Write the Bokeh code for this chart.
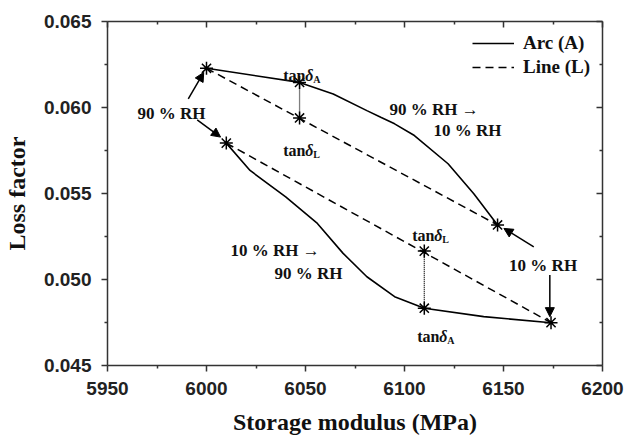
from bokeh.plotting import figure
from bokeh.models import (LinearAxis, Range1d, Arrow, NormalHead, Legend, LegendItem,
                          FixedTicker, NumeralTickFormatter)
from bokeh.core.properties import value
from bokeh.embed import file_html
from bokeh.resources import INLINE

# ---------------- data ----------------
# Arc A: 90 % RH -> 10 % RH (upper branch)
arc_dry_x = [6000, 6047, 6064, 6081, 6088, 6095, 6105, 6122, 6135, 6147]
arc_dry_y = [0.06228, 0.06146, 0.06079, 0.05982, 0.05943, 0.05905, 0.05837, 0.05673, 0.05499, 0.05317]
# Arc A: 10 % RH -> 90 % RH (lower branch)
arc_wet_x = [6010, 6022, 6040, 6056, 6069, 6081, 6095, 6110, 6140, 6174]
arc_wet_y = [0.05793, 0.05634, 0.05480, 0.05326, 0.05152, 0.05016, 0.04900, 0.04833, 0.04784, 0.04749]
# Line L: straight chords between end points
line_dry_x = [6000, 6147]
line_dry_y = [0.06228, 0.05317]
line_wet_x = [6010, 6174]
line_wet_y = [0.05793, 0.04749]
# tan(delta) comparison points
tan_x = [6047, 6110]
tan_arc_y = [0.06146, 0.04833]
tan_line_y = [0.05939, 0.05165]
# star markers
star_x = [6000, 6147, 6010, 6174] + tan_x + tan_x
star_y = [0.06228, 0.05317, 0.05793, 0.04749] + tan_arc_y + tan_line_y
# ticks
x_ticks = [5950, 6000, 6050, 6100, 6150, 6200]
y_ticks = [0.045, 0.050, 0.055, 0.060, 0.065]

# ---------------- annotations ----------------
rh_text = ["90 % RH", "10 % RH", "90 % RH \u2192", "10 % RH", "10 % RH \u2192", "90 % RH"]
rh_x = [5982.3, 6170.0, 6092.4, 6114.6, 6012.1, 6034.3]
rh_y = [0.05967, 0.05084, 0.05991, 0.05866, 0.05171, 0.05035]
rh_align = ["center", "center", "left", "left", "left", "left"]

arrow_x0 = [5990.8, 5995.3, 6165.3, 6173.4]
arrow_y0 = [0.06050, 0.05928, 0.05190, 0.05026]
arrow_x1 = [5998.6, 6007.1, 6150.2, 6173.4]
arrow_y1 = [0.06204, 0.05828, 0.05297, 0.04784]

tan_lab_x = [6038.7, 6038.7, 6103.9, 6106.4]
tan_lab_y = [0.06185, 0.05750, 0.05258, 0.04668]
tan_lab_sub = ["A", "L", "L", "A"]

SERIF = "Liberation Serif"
SANS = "Liberation Sans"

p = figure(width=624, height=437, output_backend="svg", toolbar_location=None,
           x_range=Range1d(5950, 6200), y_range=Range1d(0.045, 0.065),
           min_border_left=107, min_border_right=22, min_border_top=21, min_border_bottom=71)
p.background_fill_color = "white"
p.border_fill_color = "white"
p.outline_line_color = None
p.xgrid.visible = False
p.ygrid.visible = False

x_minor = [(a + b) / 2 for a, b in zip(x_ticks[:-1], x_ticks[1:])]
y_minor = [(a + b) / 2 for a, b in zip(y_ticks[:-1], y_ticks[1:])]
xt = FixedTicker(ticks=x_ticks, minor_ticks=x_minor)
yt = FixedTicker(ticks=y_ticks, minor_ticks=y_minor)

AX = "#333333"
def style_axis(ax):
    ax.axis_line_color = AX
    ax.axis_line_width = 1.5
    ax.major_tick_line_color = AX
    ax.minor_tick_line_color = AX
    ax.major_tick_line_width = 1.5
    ax.minor_tick_line_width = 1.5

xa = p.xaxis[0]
xa.ticker = xt
style_axis(xa)
xa.major_tick_in, xa.major_tick_out = 0, 6
xa.minor_tick_in, xa.minor_tick_out = 0, 3
xa.major_label_text_font = SANS
xa.major_label_text_font_style = "bold"
xa.major_label_text_font_size = "19px"
xa.major_label_text_color = "#222222"
xa.major_label_standoff = 10
xa.axis_label = "Storage modulus (MPa)"
xa.axis_label_text_font = SERIF
xa.axis_label_text_font_style = "bold"
xa.axis_label_text_font_size = "24px"
xa.axis_label_text_color = "#111111"
xa.axis_label_standoff = 11

ya = p.yaxis[0]
ya.ticker = yt
style_axis(ya)
ya.formatter = NumeralTickFormatter(format="0.000")
ya.major_tick_in, ya.major_tick_out = 0, 6
ya.minor_tick_in, ya.minor_tick_out = 0, 3
ya.major_label_text_font = SANS
ya.major_label_text_font_style = "bold"
ya.major_label_text_font_size = "19px"
ya.major_label_text_color = "#222222"
ya.major_label_standoff = 10
ya.axis_label = "Loss factor"
ya.axis_label_text_font = SERIF
ya.axis_label_text_font_style = "bold"
ya.axis_label_text_font_size = "24px"
ya.axis_label_text_color = "#111111"
ya.axis_label_standoff = 11

top = LinearAxis(ticker=FixedTicker(ticks=x_ticks, minor_ticks=x_minor),
                 major_label_overrides={t: "" for t in x_ticks})
right = LinearAxis(ticker=FixedTicker(ticks=y_ticks, minor_ticks=y_minor),
                   major_label_overrides={t: "" for t in y_ticks})
for ax in (top, right):
    style_axis(ax)
    ax.major_tick_in, ax.major_tick_out = 6, 0
    ax.minor_tick_in, ax.minor_tick_out = 3, 0
    ax.major_label_standoff = 0
    ax.major_label_text_font_size = "1px"
p.add_layout(top, "above")
p.add_layout(right, "right")

# ---------------- curves ----------------
a1 = p.line(arc_dry_x, arc_dry_y, line_color="black", line_width=1.6)
a2 = p.line(arc_wet_x, arc_wet_y, line_color="black", line_width=1.6)
l1 = p.line(line_dry_x, line_dry_y, line_color="black", line_width=1.5, line_dash="8 5")
l2 = p.line(line_wet_x, line_wet_y, line_color="black", line_width=1.5, line_dash="8 5")
p.segment(x0=tan_x, y0=tan_arc_y, x1=tan_x, y1=tan_line_y,
          line_color="black", line_width=1.3, line_dash="1 1")
p.scatter(star_x, star_y, marker="asterisk", size=13, line_color="black", line_width=1.5)

for x0, y0, x1, y1 in zip(arrow_x0, arrow_y0, arrow_x1, arrow_y1):
    p.add_layout(Arrow(x_start=x0, y_start=y0, x_end=x1, y_end=y1,
                       line_color="black", line_width=1.5,
                       end=NormalHead(size=9, fill_color="black", line_color="black", line_width=1)))

for t, x, y, al in zip(rh_text, rh_x, rh_y, rh_align):
    p.text(x=[x], y=[y], text=[t], text_align=al, text_baseline="middle",
           text_font=value(SERIF), text_font_style="bold", text_font_size="17px",
           text_color="#111111")

p.text(x=tan_lab_x, y=tan_lab_y, text=["tan"] * 4, text_align="left",
       text_baseline="alphabetic", text_font=value(SERIF), text_font_style="bold",
       text_font_size="16px", text_color="#111111")
p.text(x=tan_lab_x, y=tan_lab_y, text=["\u03b4"] * 4, x_offset=22, text_align="left",
       text_baseline="alphabetic", text_font=value(SERIF), text_font_style="bold italic",
       text_font_size="16px", text_color="#111111")
p.text(x=tan_lab_x, y=tan_lab_y, text=tan_lab_sub, x_offset=30, y_offset=4, text_align="left",
       text_baseline="alphabetic", text_font=value(SERIF), text_font_style="bold",
       text_font_size="10px", text_color="#111111")

legend = Legend(items=[LegendItem(label="Arc (A)", renderers=[a1]),
                       LegendItem(label="Line (L)", renderers=[l1])],
                location="top_right", margin=10, padding=10, spacing=0,
                glyph_width=42, glyph_height=24, label_height=24, label_width=69,
                label_standoff=9,
                label_text_font=SERIF, label_text_font_style="bold",
                label_text_font_size="19px", label_text_color="#111111",
                border_line_color=None, background_fill_alpha=0)
p.add_layout(legend)

open("out.html", "w").write(file_html(p, INLINE))
